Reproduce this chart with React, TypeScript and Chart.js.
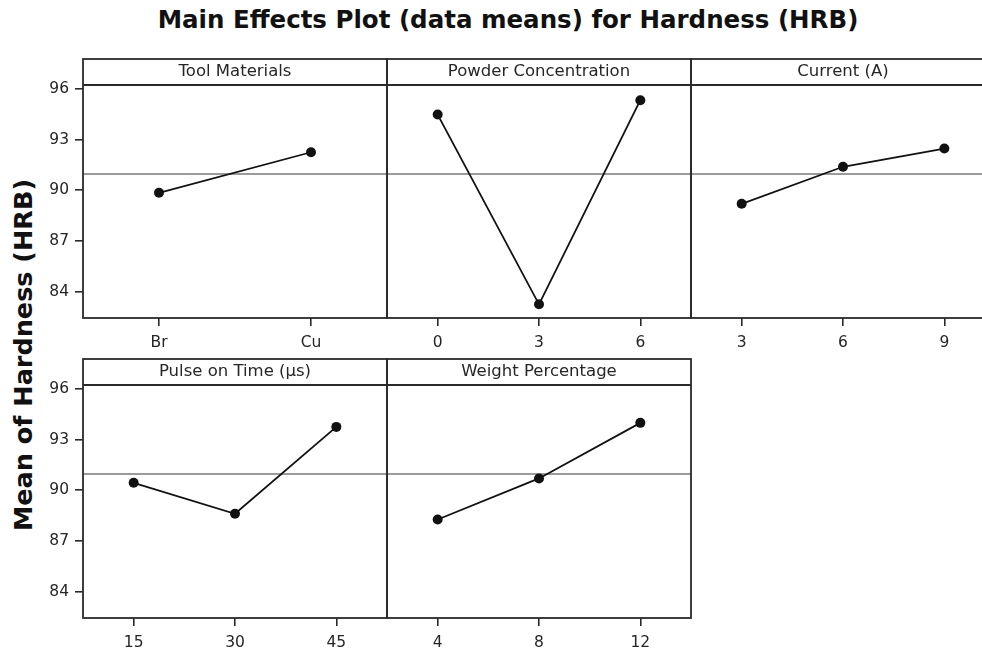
import React, { useEffect, useRef } from 'react';
import { Chart, registerables } from 'chart.js';

Chart.register(...registerables);

// ---- data -----------------------------------------------------------------
const TITLE = 'Main Effects Plot (data means) for Hardness (HRB)';
const Y_LABEL = 'Mean of Hardness (HRB)';

const TOOL_LEVELS = ['Br', 'Cu'];
const TOOL_MEANS = [89.85, 92.25];

const POWDER_LEVELS = ['0', '3', '6'];
const POWDER_MEANS = [94.48, 83.25, 95.33];

const CURRENT_LEVELS = ['3', '6', '9'];
const CURRENT_MEANS = [89.2, 91.39, 92.47];

const PULSE_LEVELS = ['15', '30', '45'];
const PULSE_MEANS = [90.44, 88.61, 93.75];

const WEIGHT_LEVELS = ['4', '8', '12'];
const WEIGHT_MEANS = [88.27, 90.7, 93.99];

const GRAND_MEAN = 90.96;
const Y_TICKS = [84, 87, 90, 93, 96];
const Y_MIN = 82.44;
const Y_MAX = 96.23;

type Panel = { name: string; levels: string[]; means: number[]; row: number; col: number };

const PANELS: Panel[] = [
  { name: 'Tool Materials', levels: TOOL_LEVELS, means: TOOL_MEANS, row: 0, col: 0 },
  { name: 'Powder Concentration', levels: POWDER_LEVELS, means: POWDER_MEANS, row: 0, col: 1 },
  { name: 'Current (A)', levels: CURRENT_LEVELS, means: CURRENT_MEANS, row: 0, col: 2 },
  { name: 'Pulse on Time (\u00b5s)', levels: PULSE_LEVELS, means: PULSE_MEANS, row: 1, col: 0 },
  { name: 'Weight Percentage', levels: WEIGHT_LEVELS, means: WEIGHT_MEANS, row: 1, col: 1 },
];

// ---- layout ---------------------------------------------------------------
const COL_LEFT = [83, 387, 691];
const PANEL_W = 304;
const ROW_PLOT_TOP = [85, 385];
const PLOT_H = 233;
const STRIP_H = 26;
const AXIS_W = 60;
const AXIS_H = 44;
const MARGIN = 8;

const FONT = '"DejaVu Sans", Verdana, sans-serif';
const FRAME = '#2a2a2a';
const TEXT = '#262626';

// Panel frame, header strip with the factor name, and the grand-mean line.
const panelFrame = {
  id: 'panelFrame',
  beforeDatasetsDraw(chart: any) {
    const { ctx, chartArea: a, scales } = chart;
    const y = scales.y.getPixelForValue(GRAND_MEAN);
    ctx.save();
    ctx.strokeStyle = '#7a7a7a';
    ctx.lineWidth = 1.6;
    ctx.beginPath();
    ctx.moveTo(a.left, y);
    ctx.lineTo(a.right, y);
    ctx.stroke();
    ctx.restore();
  },
  afterDraw(chart: any, _args: any, opts: any) {
    const { ctx, chartArea: a } = chart;
    ctx.save();
    ctx.strokeStyle = FRAME;
    ctx.lineWidth = 1.8;
    ctx.strokeRect(a.left, a.top - STRIP_H, a.right - a.left, a.bottom - a.top + STRIP_H);
    ctx.beginPath();
    ctx.moveTo(a.left, a.top);
    ctx.lineTo(a.right, a.top);
    ctx.stroke();
    ctx.fillStyle = TEXT;
    ctx.font = `16.5px ${FONT}`;
    ctx.textAlign = 'center';
    ctx.textBaseline = 'middle';
    ctx.fillText(opts.text, (a.left + a.right) / 2, a.top - STRIP_H / 2);
    ctx.restore();
  },
};

function PanelChart({ panel }: { panel: Panel }) {
  const ref = useRef<HTMLCanvasElement | null>(null);
  const width = AXIS_W + PANEL_W + MARGIN;
  const height = MARGIN + STRIP_H + PLOT_H + AXIS_H;
  const left = COL_LEFT[panel.col] - AXIS_W;
  const top = ROW_PLOT_TOP[panel.row] - STRIP_H - MARGIN;
  const showY = panel.col === 0;

  useEffect(() => {
    if (!ref.current) return;
    const chart = new Chart(ref.current, {
      type: 'line',
      data: {
        labels: panel.levels,
        datasets: [
          {
            data: panel.means,
            borderColor: '#111',
            borderWidth: 1.8,
            pointRadius: 5,
            pointBackgroundColor: '#111',
            pointBorderColor: '#111',
            pointBorderWidth: 0,
            tension: 0,
            fill: false,
          },
        ],
      },
      options: {
        responsive: false,
        animation: false,
        devicePixelRatio: 1,
        layout: { padding: { top: MARGIN + STRIP_H, right: MARGIN, left: 0, bottom: 0 } },
        plugins: {
          legend: { display: false },
          tooltip: { enabled: false },
          title: { display: false },
          panelFrame: { text: panel.name },
        } as any,
        scales: {
          x: {
            type: 'category',
            offset: true,
            border: { display: false },
            grid: {
              drawOnChartArea: false,
              drawTicks: true,
              tickLength: 8,
              color: FRAME,
              lineWidth: 1.6,
            },
            ticks: {
              color: TEXT,
              font: { family: FONT, size: 15.5 },
              padding: 8,
              maxRotation: 0,
              autoSkip: false,
            },
            afterFit: (s: any) => {
              s.height = AXIS_H;
            },
          },
          y: {
            type: 'linear',
            min: Y_MIN,
            max: Y_MAX,
            border: { display: false },
            grid: {
              display: showY,
              drawOnChartArea: false,
              drawTicks: true,
              tickLength: 8,
              color: FRAME,
              lineWidth: 1.6,
            },
            ticks: {
              display: showY,
              color: TEXT,
              font: { family: FONT, size: 15.5 },
              padding: 6,
            },
            afterBuildTicks: (s: any) => {
              s.ticks = Y_TICKS.map((v) => ({ value: v }));
            },
            afterFit: (s: any) => {
              s.width = AXIS_W;
            },
          },
        },
      },
      plugins: [panelFrame],
    });
    return () => chart.destroy();
  }, [panel]);

  return (
    <canvas
      ref={ref}
      width={width}
      height={height}
      style={{ position: 'absolute', left, top, width, height }}
    />
  );
}

export default function App() {
  return (
    <div
      style={{
        position: 'absolute',
        left: 0,
        top: 0,
        width: 982,
        height: 653,
        overflow: 'hidden',
        background: '#fff',
      }}
    >
      <div
        style={{
          position: 'absolute',
          left: 508,
          top: 8,
          transform: 'translateX(-50%)',
          whiteSpace: 'nowrap',
          font: `bold 24.5px/24px ${FONT}`,
          color: '#111',
        }}
      >
        {TITLE}
      </div>
      <div
        style={{
          position: 'absolute',
          left: 23,
          top: 355,
          transform: 'translate(-50%, -50%) rotate(-90deg)',
          whiteSpace: 'nowrap',
          font: `bold 25.5px/25px ${FONT}`,
          color: '#111',
        }}
      >
        {Y_LABEL}
      </div>
      {PANELS.map((p) => (
        <PanelChart key={p.name} panel={p} />
      ))}
    </div>
  );
}
